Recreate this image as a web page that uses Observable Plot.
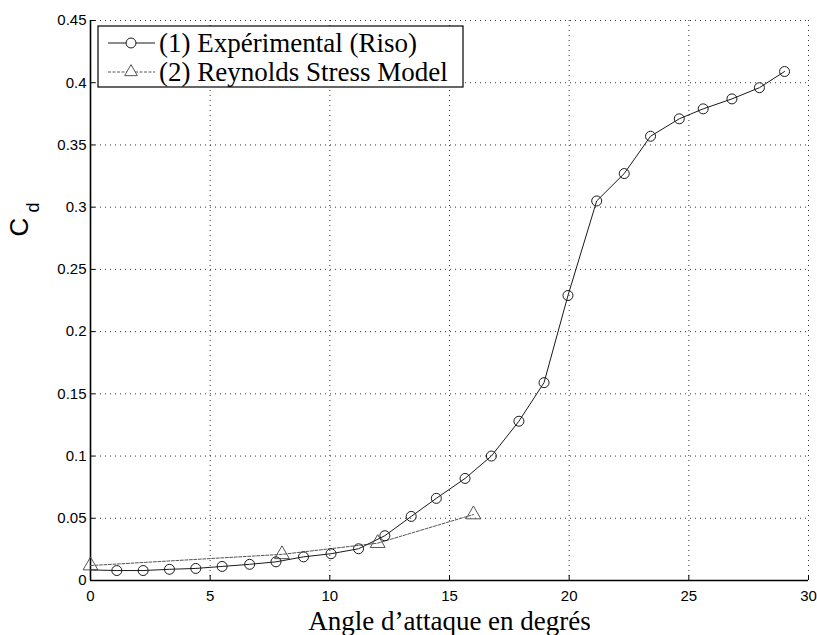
<!DOCTYPE html>
<html><head><meta charset="utf-8">
<script src="https://cdn.jsdelivr.net/npm/d3@7"></script>
<script src="https://cdn.jsdelivr.net/npm/@observablehq/plot@0.6"></script>
<style>body{margin:0;background:#fff}</style>
</head><body><div id="chart"></div>
<script>
const expAngle = [0, 1.1, 2.2, 3.3, 4.4, 5.5, 6.65, 7.75, 8.9, 10.05, 11.2, 12.3, 13.4, 14.45, 15.65, 16.75, 17.9, 18.95, 19.95, 21.15, 22.3, 23.4, 24.6, 25.6, 26.8, 27.95, 29.0];
const expCd    = [0.0085, 0.008, 0.008, 0.009, 0.0097, 0.0113, 0.013, 0.015, 0.019, 0.0215, 0.0255, 0.036, 0.0515, 0.066, 0.082, 0.100, 0.128, 0.159, 0.229, 0.305, 0.327, 0.357, 0.371, 0.379, 0.387, 0.396, 0.409];
const rsmAngle = [0, 8, 12, 16];
const rsmCd    = [0.012, 0.021, 0.030, 0.053];
const xTicks = [0, 5, 10, 15, 20, 25, 30];
const yTicks = [0, 0.05, 0.1, 0.15, 0.2, 0.25, 0.3, 0.35, 0.4, 0.45];
const seriesNames = ["(1) Expérimental (Riso)", "(2) Reynolds Stress Model"];
const xLabel = "Angle d\u2019attaque en degrés";
const yLabelMain = "C";
const yLabelSub = "d";

const expData = expAngle.map((x, i) => ({x, y: expCd[i]}));
const rsmData = rsmAngle.map((x, i) => ({x, y: rsmCd[i]}));

const W = 817, H = 635, mL = 90, mR = 9, mT = 20, mB = 55;
const fw = W - mL - mR, fh = H - mT - mB;
const serif = "'Liberation Serif', 'Times New Roman', serif";
const sans = "'Liberation Sans', Arial, sans-serif";
const expColor = "#1a1a1a", rsmColor = "#555";

const chart = Plot.plot({
  width: W, height: H,
  marginLeft: mL, marginRight: mR, marginTop: mT, marginBottom: mB,
  style: {background: "#fff", fontFamily: sans, color: "#000"},
  x: {domain: [0, 30]},
  y: {domain: [0, 0.45]},
  marks: [
    Plot.gridX(xTicks, {stroke: "#000", strokeOpacity: 0.8, strokeDasharray: "1,4"}),
    Plot.gridY(yTicks, {stroke: "#000", strokeOpacity: 0.8, strokeDasharray: "1,4"}),
    Plot.ruleX([0], {stroke: "#000", strokeWidth: 1.6}),
    Plot.ruleY([0], {stroke: "#000", strokeWidth: 1.6}),
    Plot.tickX(xTicks, {x: d => d, insetTop: fh - 5, stroke: "#000"}),
    Plot.tickY(yTicks, {y: d => d, insetRight: fw - 5, stroke: "#000"}),
    Plot.axisX(xTicks, {tickSize: 0, tickPadding: 10, fontSize: 15, tickFormat: d => String(d), label: null}),
    Plot.axisY(yTicks, {tickSize: 0, tickPadding: 4, fontSize: 15, tickFormat: d => String(+d.toFixed(2)), label: null}),
    Plot.line(rsmData, {x: "x", y: "y", stroke: rsmColor, strokeWidth: 1, strokeDasharray: "3,1.5"}),
    Plot.dot(rsmData, {x: "x", y: "y", symbol: "triangle", r: 5.5, stroke: rsmColor, strokeWidth: 1, fill: "none"}),
    Plot.line(expData, {x: "x", y: "y", stroke: expColor, strokeWidth: 1}),
    Plot.dot(expData.filter(d => d.x > 0), {x: "x", y: "y", symbol: "circle", r: 5, stroke: expColor, strokeWidth: 1, fill: "none"}),
    Plot.text([xLabel], {text: d => d, frameAnchor: "bottom", dy: 41, lineAnchor: "middle", fontFamily: serif, fontSize: 27, fill: "#000"}),
    Plot.text([yLabelMain], {text: d => d, frameAnchor: "left", dx: -71, dy: -64, rotate: -90, lineAnchor: "middle", fontFamily: sans, fontSize: 26, fill: "#000"}),
    Plot.text([yLabelSub], {text: d => d, frameAnchor: "left", dx: -57, dy: -88, rotate: -90, lineAnchor: "middle", fontFamily: sans, fontSize: 18, fill: "#000"})
  ]
});

// Legend inside the plot area
const svg = d3.select(chart);
const lg = svg.append("g").attr("class", "legend").attr("text-anchor", "start");
lg.append("rect").attr("x", 98).attr("y", 26).attr("width", 365).attr("height", 61)
  .attr("fill", "#fff").attr("stroke", "#000").attr("stroke-width", 1.2);
const rows = [
  {name: seriesNames[0], color: expColor, dash: null, sym: d3.symbolCircle, y: 43},
  {name: seriesNames[1], color: rsmColor, dash: "3,1.5", sym: d3.symbolTriangle, y: 72}
];
rows.forEach(r => {
  lg.append("line").attr("x1", 108).attr("x2", 155).attr("y1", r.y).attr("y2", r.y)
    .attr("stroke", r.color).attr("stroke-width", 1).attr("stroke-dasharray", r.dash);
  lg.append("path").attr("d", d3.symbol(r.sym, r.sym === d3.symbolCircle ? 78 : 70)())
    .attr("transform", `translate(131,${r.y})`).attr("fill", "#fff").attr("stroke", r.color).attr("stroke-width", 1);
  lg.append("text").attr("x", 159).attr("y", r.y).attr("dy", "0.35em").attr("text-anchor", "start")
    .attr("font-family", serif).attr("font-size", 27).attr("fill", "#000").text(r.name);
});

document.getElementById("chart").appendChild(chart);
</script>
</body></html>
